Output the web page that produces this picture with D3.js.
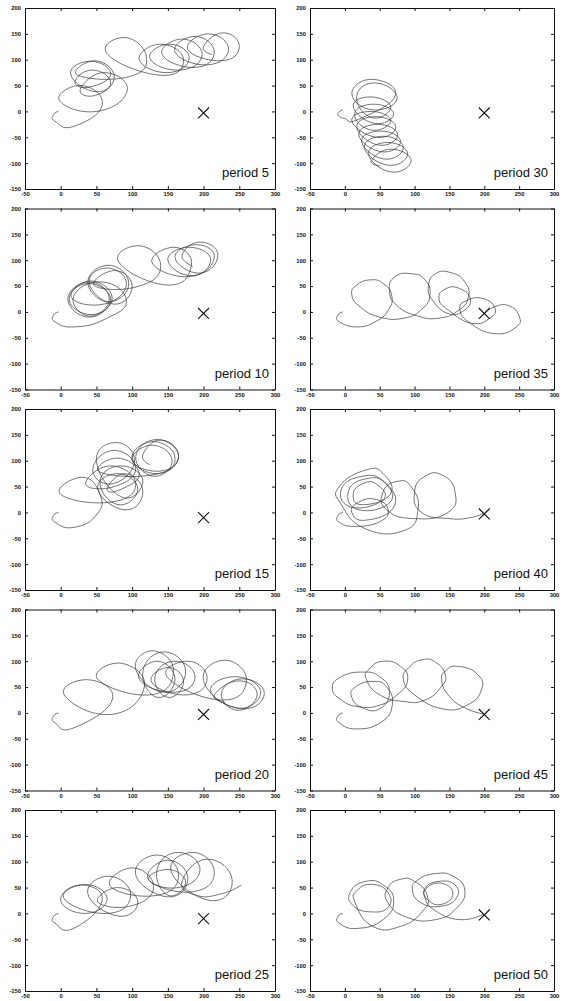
<!DOCTYPE html>
<html>
<head>
<meta charset="utf-8">
<script src="https://cdn.jsdelivr.net/npm/d3@7"></script>
<style>
body { margin: 0; background: #fff; }
</style>
</head>
<body>
<script>

// panels in reading order (left, right, left, right ...)
var periods = [5, 30, 10, 35, 15, 40, 20, 45, 25, 50];
var targets = [[200,-3],[200,-3],[200,-3],[200,-3],[200,-10],[200,-3],[200,-3],[200,-3],[200,-10],[200,-3]];
var xTicks = [-50, 0, 50, 100, 150, 200, 250, 300];
var yTicks = [-150, -100, -50, 0, 50, 100, 150, 200];

// trajectories, [x, y]
var path5 = [[-3,0],[-10,-6],[-8,-19],[18,-29],
	[58,12],[30,50],[-2,22],
	[50,0],[93,40],[62,75],[28,45],
	[45,30],[70,55],[45,80],[20,58],
	[40,47],[70,72],[42,97],[14,72],
	[50,38],[75,68],[48,98],[24,70],
	[95,67],[120,105],[90,143],[66,110],
	[140,70],[172,100],[140,130],[110,100],
	[150,75],[180,103],[152,130],[125,102],
	[168,80],[198,110],[170,140],[142,110],
	[188,85],[215,115],[188,145],[160,115],
	[205,90],[235,120],[207,150],[178,120],
	[225,98],[250,125],[228,152],[200,126],[212,110]];

var path10 = [[-3,0],[-10,-6],[-8,-19],[18,-29],[62,-14],
	[92,22],[58,58],[18,30],
	[40,-8],[68,25],[40,58],[10,25],
	[40,-10],[70,25],[38,55],[12,22],
	[45,-5],[72,28],[42,60],[15,28],
	[60,15],[95,50],[70,90],[38,60],
	[65,20],[92,55],[65,85],[40,55],
	[75,15],[100,50],[75,80],[48,50],
	[110,50],[140,90],[110,128],[82,95],
	[150,52],[183,90],[160,125],[128,95],
	[178,68],[210,100],[180,125],[150,100],
	[185,70],[215,105],[190,130],[160,105],
	[195,75],[220,110],[195,135],[170,110],[185,88]];

var path15 = [[-3,0],[-10,-6],[-8,-19],[18,-29],[50,-5],
	[55,35],[30,68],[0,35],
	[70,20],[105,55],[70,90],[35,55],
	[75,50],[105,85],[75,120],[45,85],
	[70,55],[103,95],[80,135],[50,100],
	[85,30],[115,60],[85,90],[55,60],
	[80,15],[108,45],[80,75],[52,45],
	[90,5],[115,40],[90,75],[65,45],
	[85,45],[110,75],[80,105],[55,78],
	[130,73],[160,105],[130,137],[100,105],
	[135,75],[165,108],[135,141],[105,108],
	[130,70],[156,100],[128,130],[100,100],
	[140,80],[165,110],[140,140],[115,112],[125,92]];

var path20 = [[-3,0],[-10,-6],[-8,-19],[18,-29],
	[72,25],[40,64],[5,35],
	[70,-3],[117,50],[85,96],[52,65],
	[125,35],[158,80],[130,120],[105,85],
	[145,40],[175,80],[145,118],[115,80],
	[135,30],[160,65],[135,100],[110,65],
	[160,40],[188,70],[160,100],[132,70],
	[150,30],[172,60],[150,88],[128,58],
	[178,35],[205,68],[178,100],[150,68],
	[225,25],[260,63],[230,102],[200,63],
	[245,10],[280,40],[245,70],[210,42],
	[255,8],[285,38],[255,66],[225,38],
	[248,5],[275,35],[250,62],[215,35],[230,20]];

var path25 = [[-3,0],[-10,-6],[-8,-19],[18,-29],
	[58,25],[28,55],[0,25],
	[35,0],[65,28],[35,56],[5,28],
	[65,0],[98,35],[68,72],[38,38],
	[80,-5],[108,22],[80,50],[52,22],
	[100,15],[130,52],[100,88],[70,52],
	[135,35],[165,75],[135,113],[105,75],
	[150,32],[178,68],[150,103],[122,68],
	[165,50],[195,85],[165,118],[135,85],
	[150,35],[175,60],[150,85],[125,62],
	[185,42],[215,80],[185,118],[155,80],
	[210,25],[240,65],[205,105],[170,62],
	[190,35],[225,38],[253,55]];

var path30 = [[-3,3],[-10,-5],[0,-14],[20,-15],
	[72,30],[40,62],[10,35],
	[40,3],[75,25],[45,55],[17,30],
	[38,-12],[66,8],[38,28],[12,10],
	[42,-23],[70,-5],[42,14],[14,-5],
	[38,-36],[66,-18],[38,0],[10,-18],
	[45,-50],[73,-30],[45,-10],[17,-30],
	[48,-65],[76,-45],[48,-25],[20,-45],
	[52,-78],[80,-58],[52,-38],[24,-58],
	[56,-92],[84,-70],[56,-48],[28,-70],
	[62,-104],[90,-82],[62,-60],[34,-82],
	[66,-117],[95,-95],[66,-73],[38,-95],[50,-105]];

var path35 = [[-3,0],[-10,-6],[-8,-19],[18,-29],[45,-18],[63,5],[67,33],[55,55],[37,62],[17,52],[10,33],[22,10],
	[50,-10],[85,-12],[110,5],[122,32],[115,62],[95,74],[72,68],[64,42],[75,12],
	[105,-8],[135,-12],[162,2],[177,28],[172,58],[152,76],[130,74],[120,50],[126,22],
	[148,-3],[170,2],[180,25],[165,45],[145,45],[135,25],[150,2],
	[182,-22],[208,-12],[215,8],[198,26],[175,22],[165,5],[180,-22],
	[215,-42],[245,-30],[250,-8],[235,12],[215,10],[200,-3]];

var path40 = [[-3,0],[-10,-6],[-8,-19],[15,-27],[50,-18],[62,5],[45,25],[20,20],[10,0],
	[30,-15],[70,10],[60,55],[30,65],[5,40],
	[20,5],[65,20],[55,60],[25,70],[-5,45],
	[10,10],[55,25],[45,55],[25,55],[12,35],
	[25,15],[65,35],[55,75],[30,82],[-8,50],[-5,15],
	[30,-32],[85,-35],[105,5],[95,50],[75,60],[55,40],
	[60,5],[100,-12],[148,0],[158,40],[140,72],[115,70],[100,40],[110,0],
	[150,-12],[180,-10],[198,-2]];

var path45 = [[-3,0],[-10,-6],[-8,-19],[17,-31],[52,-18],[68,15],[60,50],[40,61],[15,50],[10,30],[25,10],
	[50,8],[64,40],[50,70],[25,79],[-5,70],[-18,48],[-5,25],[20,12],
	[50,15],[75,35],[90,63],[80,90],[55,100],[35,85],[31,65],[50,35],
	[85,22],[115,25],[138,50],[144,74],[130,98],[111,103],[92,88],[84,65],[100,35],
	[140,8],[175,15],[196,45],[190,75],[163,90],[145,82],[139,62],[150,32],[172,10],[198,-2]];

var path50 = [[-3,0],[-10,-6],[-8,-19],[18,-29],
	[55,-12],[70,25],[55,55],[30,62],[8,42],[12,15],[38,3],
	[62,12],[62,40],[40,56],[18,45],[15,20],
	[40,-25],[80,-25],[112,5],[118,35],[100,62],[80,66],[62,50],[62,20],[90,-8],
	[130,-12],[160,10],[172,45],[155,72],[130,77],[105,65],[97,45],[110,20],
	[138,14],[160,30],[158,55],[135,62],[115,48],[120,25],
	[140,18],[155,38],[140,58],[118,50],[115,30],[130,5],[165,-12],[198,-2]];

var paths = [path5, path30, path10, path35, path15, path40, path20, path45, path25, path50];

var svg = d3.select("body").append("svg")
	.attr("width", 565)
	.attr("height", 1001);

var cols = [[25, 275], [310, 554]];

function noLabel() { return ""; }
function label(d) { return String(d); }

periods.forEach(function (p, i) {
	var r = Math.floor(i / 2), c = i % 2;
	var top = 8 + r * 200.5, bottom = top + 181;
	var x = d3.scaleLinear().domain([-50, 300]).range(cols[c]);
	var y = d3.scaleLinear().domain([-150, 200]).range([bottom, top]);
	var g = svg.append("g");

	g.append("g").attr("transform", "translate(0," + bottom + ")")
		.call(d3.axisBottom(x).tickValues(xTicks).tickFormat(label).tickSize(-3).tickSizeOuter(0).tickPadding(3));
	g.append("g").attr("transform", "translate(0," + top + ")")
		.call(d3.axisTop(x).tickValues(xTicks).tickFormat(noLabel).tickSize(-3).tickSizeOuter(0));
	g.append("g").attr("transform", "translate(" + cols[c][0] + ",0)")
		.call(d3.axisLeft(y).tickValues(yTicks).tickFormat(label).tickSize(-3).tickSizeOuter(0).tickPadding(4));
	g.append("g").attr("transform", "translate(" + cols[c][1] + ",0)")
		.call(d3.axisRight(y).tickValues(yTicks).tickFormat(noLabel).tickSize(-3).tickSizeOuter(0));

	g.selectAll(".domain").attr("stroke", "#111").attr("stroke-width", 1);
	g.selectAll(".tick line").attr("stroke", "#111");
	g.selectAll(".tick text")
		.attr("font-family", "Liberation Sans, Arial, sans-serif")
		.attr("font-size", 5.8)
		.attr("font-weight", "bold")
		.attr("fill", "#111");

	// looser cardinal spline so the 4-point loops come out round
	var line = d3.line()
		.x(function (d) { return x(d[0]); })
		.y(function (d) { return y(d[1]); })
		.curve(d3.curveCardinal.tension(-0.5));

	g.append("path")
		.datum(paths[i])
		.attr("d", line)
		.attr("fill", "none")
		.attr("stroke", "#3a3a3a")
		.attr("stroke-width", 0.7);

	g.append("path")
		.attr("d", d3.symbol().type(d3.symbolX).size(80))
		.attr("transform", "translate(" + x(targets[i][0]) + "," + y(targets[i][1]) + ")")
		.attr("fill", "none")
		.attr("stroke", "#111")
		.attr("stroke-width", 1.1);

	g.append("text")
		.attr("x", x(300) - 6)
		.attr("y", y(-150) - 12)
		.attr("text-anchor", "end")
		.attr("font-family", "Liberation Sans, Arial, sans-serif")
		.attr("font-size", 13)
		.attr("fill", "#111")
		.text("period " + p);
});

</script>
</body>
</html>
